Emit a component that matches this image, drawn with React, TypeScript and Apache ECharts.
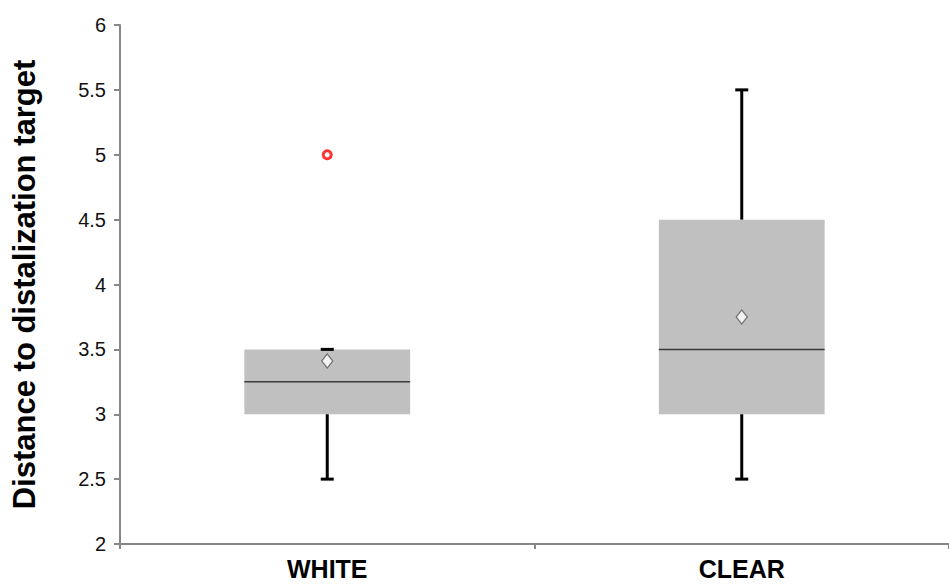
import React, { useEffect, useRef } from "react";
import * as echarts from "echarts";

const categories = ["WHITE", "CLEAR"];
const whiskerLow = [2.5, 2.5];
const q1 = [3, 3];
const median = [3.25, 3.5];
const q3 = [3.5, 4.5];
const whiskerHigh = [3.5, 5.5];
const means = [3.41, 3.75];
const outlierCategories = ["WHITE"];
const outlierValues = [5];
const yTicks = [2, 2.5, 3, 3.5, 4, 4.5, 5, 5.5, 6];

const FONT = "'Liberation Sans', Arial, sans-serif";

export default function App() {
  const ref = useRef<HTMLDivElement>(null);

  useEffect(() => {
    document.body.style.margin = "0";
    if (!ref.current) return;
    const chart = echarts.init(ref.current, undefined, { renderer: "svg" });

    const boxData = categories.map((c, i) => [i, whiskerLow[i], q1[i], median[i], q3[i], whiskerHigh[i]]);

    const renderItem = (params: any, api: any) => {
      const idx = api.value(0);
      const lo = api.coord([idx, api.value(1)]);
      const b1 = api.coord([idx, api.value(2)]);
      const md = api.coord([idx, api.value(3)]);
      const b3 = api.coord([idx, api.value(4)]);
      const hi = api.coord([idx, api.value(5)]);
      const band = api.size([1, 0])[0];
      const bw = band * 0.4;
      const cx = lo[0];
      const cap = 13;
      const lineStyle = { stroke: "#000", lineWidth: 3 };
      return {
        type: "group",
        children: [
          {
            type: "rect",
            shape: { x: cx - bw / 2, y: b3[1], width: bw, height: b1[1] - b3[1] },
            style: { fill: "#c0c0c0", stroke: null },
          },
          {
            type: "line",
            shape: { x1: cx - bw / 2, y1: md[1], x2: cx + bw / 2, y2: md[1] },
            style: { stroke: "#3a3a3a", lineWidth: 1.5 },
          },
          {
            type: "line",
            shape: { x1: cx, y1: b1[1], x2: cx, y2: lo[1] },
            style: lineStyle,
          },
          {
            type: "line",
            shape: { x1: cx, y1: b3[1], x2: cx, y2: hi[1] },
            style: lineStyle,
          },
          {
            type: "line",
            shape: { x1: cx - cap / 2, y1: lo[1], x2: cx + cap / 2, y2: lo[1] },
            style: lineStyle,
          },
          {
            type: "line",
            shape: { x1: cx - cap / 2, y1: hi[1], x2: cx + cap / 2, y2: hi[1] },
            style: lineStyle,
          },
        ],
      };
    };

    chart.setOption({
      animation: false,
      backgroundColor: "#fff",
      grid: { left: 120, top: 25, width: 838, height: 519, containLabel: false },
      xAxis: {
        type: "category",
        data: categories,
        boundaryGap: true,
        axisLine: { lineStyle: { color: "#878787", width: 2 } },
        axisTick: { show: true, length: 5, lineStyle: { color: "#878787", width: 2 } },
        axisLabel: {
          color: "#000",
          fontFamily: FONT,
          fontWeight: "bold",
          fontSize: 25,
          margin: 12,
        },
        splitLine: { show: false },
      },
      yAxis: {
        type: "value",
        min: 2,
        max: 6,
        interval: 0.5,
        name: "Distance to distalization target",
        nameLocation: "middle",
        nameGap: 80,
        nameTextStyle: {
          color: "#000",
          fontFamily: FONT,
          fontWeight: "bold",
          fontSize: 31,
        },
        axisLine: { show: true, lineStyle: { color: "#878787", width: 2 } },
        axisTick: { show: true, length: 6, lineStyle: { color: "#878787", width: 2 } },
        axisLabel: {
          color: "#111",
          fontFamily: FONT,
          fontSize: 20,
          margin: 14,
          formatter: (v: number) => (yTicks.includes(v) ? String(v) : ""),
        },
        splitLine: { show: false },
      },
      series: [
        {
          type: "custom",
          renderItem,
          data: boxData,
          encode: { x: 0, y: [1, 2, 3, 4, 5] },
          z: 2,
        },
        {
          type: "scatter",
          data: categories.map((c, i) => [c, means[i]]),
          symbol: "diamond",
          symbolSize: [11, 14],
          itemStyle: { color: "#fff", borderColor: "#5a5a5a", borderWidth: 1.3 },
          z: 5,
        },
        {
          type: "scatter",
          data: outlierCategories.map((c, i) => [c, outlierValues[i]]),
          symbol: "circle",
          symbolSize: 8,
          itemStyle: { color: "#fff", borderColor: "#ff0000", borderWidth: 3 },
          z: 5,
        },
      ],
    });

    return () => chart.dispose();
  }, []);

  return <div ref={ref} style={{ width: 949, height: 587 }} />;
}
